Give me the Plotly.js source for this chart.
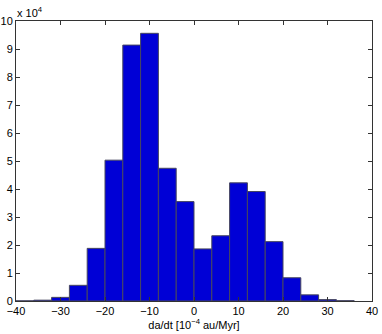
<!DOCTYPE html>
<html>
<head>
<meta charset="utf-8">
<script src="https://cdn.plot.ly/plotly-3.0.1.min.js"></script>
<style>
  html, body { margin: 0; padding: 0; background: #fff; }
  #histPlot { width: 382px; height: 334px; }
</style>
</head>
<body>
<div id="histPlot"></div>
<script>
// bin centres of da/dt, in 10^-4 au/Myr (bin width 4)
var binCenters = [-38, -34, -30, -26, -22, -18, -14, -10, -6, -2, 2, 6, 10, 14, 18, 22, 26, 30, 34];
// counts
var binCounts = [50, 300, 1300, 5600, 18800, 50300, 91400, 95600, 47400, 35500,
                 18600, 23300, 42200, 39100, 21200, 8300, 2200, 500, 100];

var xTicks = [-40, -30, -20, -10, 0, 10, 20, 30, 40];
var xTickText = ['\u221240', '\u221230', '\u221220', '\u221210', '0', '10', '20', '30', '40'];
var yTicks = [0, 10000, 20000, 30000, 40000, 50000, 60000, 70000, 80000, 90000, 100000];
var yTickText = ['0', '1', '2', '3', '4', '5', '6', '7', '8', '9', '10'];

var font = {family: 'Liberation Sans, Arial, sans-serif', size: 11, color: '#000'};

var bars = {
  type: 'bar',
  x: binCenters,
  y: binCounts,
  width: 4,
  marker: {color: '#0000d6', line: {color: 'rgb(70,70,95)', width: 1}},
  hoverinfo: 'x+y'
};

var layout = {
  width: 382,
  height: 334,
  margin: {l: 16, r: 10, t: 21, b: 33},
  paper_bgcolor: '#fff',
  plot_bgcolor: '#fff',
  font: font,
  showlegend: false,
  bargap: 0,
  xaxis: {
    range: [-40, 40],
    tickvals: xTicks,
    ticktext: xTickText,
    ticks: 'inside',
    ticklen: 4,
    tickcolor: '#333',
    showline: true,
    linecolor: '#333',
    linewidth: 1,
    mirror: 'ticks',
    showgrid: false,
    zeroline: false,
    tickfont: font,
    title: {text: 'da/dt [10<sup>\u22124</sup> au/Myr]', font: font, standoff: 3}
  },
  yaxis: {
    range: [0, 100000],
    tickvals: yTicks,
    ticktext: yTickText,
    ticks: 'inside',
    ticklen: 4,
    tickcolor: '#333',
    showline: true,
    linecolor: '#333',
    linewidth: 1,
    mirror: 'ticks',
    showgrid: false,
    zeroline: false,
    tickfont: font
  },
  annotations: [{
    text: 'x 10<sup>4</sup>',
    xref: 'paper', yref: 'paper',
    x: -0.003, y: 1.0,
    xanchor: 'left', yanchor: 'bottom',
    showarrow: false,
    font: font
  }]
};

Plotly.newPlot('histPlot', [bars], layout, {displayModeBar: false, staticPlot: true});
</script>
</body>
</html>
